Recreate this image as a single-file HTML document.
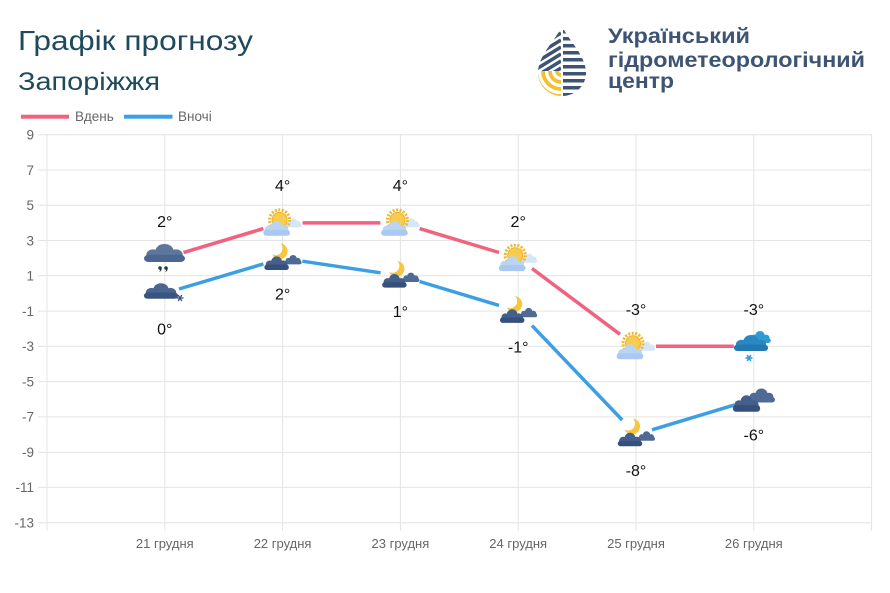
<!DOCTYPE html>
<html>
<head>
<meta charset="utf-8">
<style>
html,body{margin:0;padding:0;background:#fff;}
svg{display:block;}
text{font-family:"Liberation Sans",sans-serif;}
</style>
</head>
<body>
<svg width="890" height="593" viewBox="0 0 890 593" xmlns="http://www.w3.org/2000/svg">
<rect width="890" height="593" fill="#fff"/>

<!-- Title -->
<text x="18" y="50" font-size="28" fill="#1e4a5e" textLength="235" lengthAdjust="spacingAndGlyphs">Графік прогнозу</text>
<text x="18" y="90" font-size="25" fill="#1e4a5e" textLength="142" lengthAdjust="spacingAndGlyphs">Запоріжжя</text>

<!-- Logo -->
<defs>
<clipPath id="drop"><path d="M562,26 C556,40 538,55 538,73 A24 23 0 0 0 586,73 C586,55 568,40 562,26 Z"/></clipPath>
</defs>
<g clip-path="url(#drop)">
  <g fill="#3d5474">
    <rect x="563" y="30" width="30" height="3.5"/>
    <rect x="563" y="37" width="30" height="3.5"/>
    <rect x="563" y="44" width="30" height="3.5"/>
    <rect x="563" y="51" width="30" height="3.5"/>
    <rect x="563" y="58" width="30" height="3.5"/>
    <rect x="563" y="65" width="30" height="3.5"/>
    <rect x="563" y="72" width="30" height="3.5"/>
    <rect x="563" y="79" width="30" height="3.5"/>
    <rect x="563" y="86" width="30" height="3.5"/>
    <rect x="563" y="93" width="30" height="3.5"/>
  </g>
  <g stroke="#3d5474" stroke-width="3.5">
    <line x1="530" y1="45" x2="561" y2="26"/>
    <line x1="530" y1="52" x2="561" y2="33"/>
    <line x1="530" y1="59" x2="561" y2="40"/>
    <line x1="530" y1="66" x2="561" y2="47"/>
    <line x1="530" y1="73" x2="561" y2="54"/>
    <line x1="530" y1="80" x2="561" y2="61"/>
    <line x1="530" y1="87" x2="561" y2="68"/>
  </g>
  <rect x="534" y="71" width="27.5" height="30" fill="#fff"/>
  <g fill="none" stroke="#f2c12e" stroke-width="3.8">
    <path d="M557,71 A4 4 0 0 0 561,75"/>
    <path d="M550,71 A11 11 0 0 0 561,82"/>
    <path d="M543,71 A18 18 0 0 0 561,89"/>
    <path d="M536,71 A25 25 0 0 0 561,96"/>
  </g>
  <rect x="561" y="20" width="2" height="80" fill="#fff"/>
</g>
<g font-weight="bold" font-size="21" fill="#3d5474">
  <text x="608" y="43" textLength="142" lengthAdjust="spacingAndGlyphs">Український</text>
  <text x="608" y="67" textLength="257" lengthAdjust="spacingAndGlyphs">гідрометеорологічний</text>
  <text x="608" y="88" textLength="66" lengthAdjust="spacingAndGlyphs">центр</text>
</g>

<!-- Legend -->
<rect x="21" y="114.7" width="48" height="4" fill="#f0627f"/>
<text x="75" y="121" font-size="13.5" fill="#666">Вдень</text>
<rect x="124" y="114.7" width="48.5" height="4" fill="#3d9fe3"/>
<text x="178" y="121" font-size="13.5" fill="#666">Вночі</text>

<!-- Grid -->
<g stroke="#e4e4e4" stroke-width="1">
  <line x1="38" y1="134.7" x2="872" y2="134.7"/>
  <line x1="38" y1="170" x2="872" y2="170"/>
  <line x1="38" y1="205.3" x2="872" y2="205.3"/>
  <line x1="38" y1="240.5" x2="872" y2="240.5"/>
  <line x1="38" y1="275.8" x2="872" y2="275.8"/>
  <line x1="38" y1="311.1" x2="872" y2="311.1"/>
  <line x1="38" y1="346.3" x2="872" y2="346.3"/>
  <line x1="38" y1="381.6" x2="872" y2="381.6"/>
  <line x1="38" y1="416.9" x2="872" y2="416.9"/>
  <line x1="38" y1="452.2" x2="872" y2="452.2"/>
  <line x1="38" y1="487.4" x2="872" y2="487.4"/>
  <line x1="38" y1="522.7" x2="872" y2="522.7"/>
  <line x1="47" y1="134.7" x2="47" y2="531"/>
  <line x1="164.8" y1="134.7" x2="164.8" y2="531"/>
  <line x1="282.6" y1="134.7" x2="282.6" y2="531"/>
  <line x1="400.4" y1="134.7" x2="400.4" y2="531"/>
  <line x1="518.2" y1="134.7" x2="518.2" y2="531"/>
  <line x1="636" y1="134.7" x2="636" y2="531"/>
  <line x1="753.8" y1="134.7" x2="753.8" y2="531"/>
  <line x1="871.6" y1="134.7" x2="871.6" y2="531"/>
</g>

<!-- Y labels -->
<g font-size="13.5" fill="#666" text-anchor="end">
  <text x="34" y="139.5">9</text>
  <text x="34" y="174.8">7</text>
  <text x="34" y="210.1">5</text>
  <text x="34" y="245.3">3</text>
  <text x="34" y="280.6">1</text>
  <text x="34" y="315.9">-1</text>
  <text x="34" y="351.1">-3</text>
  <text x="34" y="386.4">-5</text>
  <text x="34" y="421.7">-7</text>
  <text x="34" y="457">-9</text>
  <text x="34" y="492.2">-11</text>
  <text x="34" y="527.5">-13</text>
</g>

<!-- X labels -->
<g font-size="13" fill="#666" text-anchor="middle">
  <text x="164.8" y="548">21 грудня</text>
  <text x="282.6" y="548">22 грудня</text>
  <text x="400.4" y="548">23 грудня</text>
  <text x="518.2" y="548">24 грудня</text>
  <text x="636" y="548">25 грудня</text>
  <text x="753.8" y="548">26 грудня</text>
</g>

<!-- Day series -->
<g stroke="#f0627f" stroke-width="3.5" fill="none">
  <line x1="183.5" y1="252.6" x2="263.4" y2="228.6"/>
  <line x1="302.6" y1="222.9" x2="380.4" y2="222.9"/>
  <line x1="419.6" y1="228.6" x2="499" y2="252.5"/>
  <line x1="532" y1="268.5" x2="620" y2="334.3"/>
  <line x1="656" y1="346.3" x2="733.8" y2="346.3"/>
</g>
<!-- Night series -->
<g stroke="#3d9fe3" stroke-width="3.5" fill="none">
  <line x1="179" y1="289" x2="263.4" y2="263.9"/>
  <line x1="302.4" y1="261.2" x2="380.6" y2="272.8"/>
  <line x1="419.6" y1="281.5" x2="499" y2="305.4"/>
  <line x1="532" y1="325.6" x2="622.2" y2="420"/>
  <line x1="652" y1="429.8" x2="734.6" y2="404.9"/>
</g>

<!-- Icons -->
<g transform="translate(164.5,253) scale(1.14,0.9)">
  <g fill="#5d769c">
    <circle cx="-10" cy="2" r="6"/><circle cx="0" cy="-2" r="8"/><circle cx="10" cy="2" r="6"/>
    <rect x="-18" y="2" width="36" height="8" rx="4" fill="#4b6690"/>
  </g>
</g>
<g fill="#2c3a4c">
  <circle cx="160" cy="268" r="1.8"/><path d="M161.6,268 q0.5,3 -2.5,4 q1.5,-2 0.5,-3z"/>
  <circle cx="166" cy="268" r="1.8"/><path d="M167.6,268 q0.5,3 -2.5,4 q1.5,-2 0.5,-3z"/>
</g>
<g transform="translate(161,291) scale(0.95,0.78)">
  <g fill="#4a6590">
    <circle cx="-10" cy="2" r="6"/><circle cx="0" cy="-2" r="8"/><circle cx="10" cy="2" r="6"/>
    <rect x="-18" y="2" width="36" height="8" rx="4" fill="#3a5480"/>
  </g>
</g>
<g stroke="#3a5480" stroke-width="1.3" transform="translate(180,298)">
  <line x1="-3.5" y1="0" x2="3.5" y2="0"/><line x1="-1.8" y1="-3" x2="1.8" y2="3"/><line x1="-1.8" y1="3" x2="1.8" y2="-3"/>
</g>

<!-- Sun-cloud icons -->
<g transform="translate(282.6,222.9)">
  <g transform="translate(11,0) scale(0.45)" fill="#d6e6fa"><circle cx="-10" cy="2" r="6"/><circle cx="0" cy="-2" r="8"/><circle cx="10" cy="2" r="6"/><rect x="-18" y="2" width="36" height="8" rx="4"/></g>
  <circle cx="-3" cy="-3" r="10" fill="none" stroke="#f0b72c" stroke-width="3" stroke-dasharray="2 1.5"/>
  <circle cx="-3" cy="-3" r="7.5" fill="#f8cd4f" stroke="#eeb22a" stroke-width="1"/>
  <g transform="translate(-6,5.5) scale(0.74)" fill="#b9d4f5"><circle cx="-10" cy="2" r="6"/><circle cx="0" cy="-2" r="8"/><circle cx="10" cy="2" r="6"/><rect x="-18" y="2" width="36" height="8" rx="4" fill="#a9c9f0"/></g>
</g>
<g transform="translate(400.4,222.9)">
  <g transform="translate(11,0) scale(0.45)" fill="#d6e6fa"><circle cx="-10" cy="2" r="6"/><circle cx="0" cy="-2" r="8"/><circle cx="10" cy="2" r="6"/><rect x="-18" y="2" width="36" height="8" rx="4"/></g>
  <circle cx="-3" cy="-3" r="10" fill="none" stroke="#f0b72c" stroke-width="3" stroke-dasharray="2 1.5"/>
  <circle cx="-3" cy="-3" r="7.5" fill="#f8cd4f" stroke="#eeb22a" stroke-width="1"/>
  <g transform="translate(-6,5.5) scale(0.74)" fill="#b9d4f5"><circle cx="-10" cy="2" r="6"/><circle cx="0" cy="-2" r="8"/><circle cx="10" cy="2" r="6"/><rect x="-18" y="2" width="36" height="8" rx="4" fill="#a9c9f0"/></g>
</g>
<g transform="translate(518.2,258.2)">
  <g transform="translate(11,0) scale(0.45)" fill="#d6e6fa"><circle cx="-10" cy="2" r="6"/><circle cx="0" cy="-2" r="8"/><circle cx="10" cy="2" r="6"/><rect x="-18" y="2" width="36" height="8" rx="4"/></g>
  <circle cx="-3" cy="-3" r="10" fill="none" stroke="#f0b72c" stroke-width="3" stroke-dasharray="2 1.5"/>
  <circle cx="-3" cy="-3" r="7.5" fill="#f8cd4f" stroke="#eeb22a" stroke-width="1"/>
  <g transform="translate(-6,5.5) scale(0.74)" fill="#b9d4f5"><circle cx="-10" cy="2" r="6"/><circle cx="0" cy="-2" r="8"/><circle cx="10" cy="2" r="6"/><rect x="-18" y="2" width="36" height="8" rx="4" fill="#a9c9f0"/></g>
</g>
<g transform="translate(636,346.3)">
  <g transform="translate(11,0) scale(0.45)" fill="#d6e6fa"><circle cx="-10" cy="2" r="6"/><circle cx="0" cy="-2" r="8"/><circle cx="10" cy="2" r="6"/><rect x="-18" y="2" width="36" height="8" rx="4"/></g>
  <circle cx="-3" cy="-3" r="10" fill="none" stroke="#f0b72c" stroke-width="3" stroke-dasharray="2 1.5"/>
  <circle cx="-3" cy="-3" r="7.5" fill="#f8cd4f" stroke="#eeb22a" stroke-width="1"/>
  <g transform="translate(-6,5.5) scale(0.74)" fill="#b9d4f5"><circle cx="-10" cy="2" r="6"/><circle cx="0" cy="-2" r="8"/><circle cx="10" cy="2" r="6"/><rect x="-18" y="2" width="36" height="8" rx="4" fill="#a9c9f0"/></g>
</g>

<!-- Moon-cloud icons -->
<g transform="translate(282.6,258.2)">
  <path transform="translate(-3,-7)" d="M0.96,-7.94 A8 8 0 1 1 -7.36,3.14 A7 7 0 0 0 0.96,-7.94 Z" fill="#f6c63e"/>
  <g transform="translate(10.5,1.5) scale(0.47)" fill="#4f6a95"><circle cx="-10" cy="2" r="6"/><circle cx="0" cy="-2" r="8"/><circle cx="10" cy="2" r="6"/><rect x="-18" y="2" width="36" height="8" rx="4"/></g>
  <g transform="translate(-6,5) scale(0.68)" fill="#445f8a"><circle cx="-10" cy="2" r="6"/><circle cx="0" cy="-2" r="8"/><circle cx="10" cy="2" r="6"/><rect x="-18" y="2" width="36" height="8" rx="4" fill="#37507b"/></g>
</g>
<g transform="translate(400.4,275.8)">
  <path transform="translate(-4,-7)" d="M0.96,-7.94 A8 8 0 1 1 -7.36,3.14 A7 7 0 0 0 0.96,-7.94 Z" fill="#f6c63e"/>
  <g transform="translate(10.5,1.5) scale(0.47)" fill="#4f6a95"><circle cx="-10" cy="2" r="6"/><circle cx="0" cy="-2" r="8"/><circle cx="10" cy="2" r="6"/><rect x="-18" y="2" width="36" height="8" rx="4"/></g>
  <g transform="translate(-6,5) scale(0.68)" fill="#445f8a"><circle cx="-10" cy="2" r="6"/><circle cx="0" cy="-2" r="8"/><circle cx="10" cy="2" r="6"/><rect x="-18" y="2" width="36" height="8" rx="4" fill="#37507b"/></g>
</g>
<g transform="translate(518.2,311.1)">
  <path transform="translate(-4,-7)" d="M0.96,-7.94 A8 8 0 1 1 -7.36,3.14 A7 7 0 0 0 0.96,-7.94 Z" fill="#f6c63e"/>
  <g transform="translate(10.5,1.5) scale(0.47)" fill="#4f6a95"><circle cx="-10" cy="2" r="6"/><circle cx="0" cy="-2" r="8"/><circle cx="10" cy="2" r="6"/><rect x="-18" y="2" width="36" height="8" rx="4"/></g>
  <g transform="translate(-6,5) scale(0.68)" fill="#445f8a"><circle cx="-10" cy="2" r="6"/><circle cx="0" cy="-2" r="8"/><circle cx="10" cy="2" r="6"/><rect x="-18" y="2" width="36" height="8" rx="4" fill="#37507b"/></g>
</g>
<g transform="translate(636,434.5)">
  <path transform="translate(-4,-8)" d="M0.96,-7.94 A8 8 0 1 1 -7.36,3.14 A7 7 0 0 0 0.96,-7.94 Z" fill="#f6c63e"/>
  <g transform="translate(10.5,1.5) scale(0.47)" fill="#4f6a95"><circle cx="-10" cy="2" r="6"/><circle cx="0" cy="-2" r="8"/><circle cx="10" cy="2" r="6"/><rect x="-18" y="2" width="36" height="8" rx="4"/></g>
  <g transform="translate(-6,5) scale(0.68)" fill="#445f8a"><circle cx="-10" cy="2" r="6"/><circle cx="0" cy="-2" r="8"/><circle cx="10" cy="2" r="6"/><rect x="-18" y="2" width="36" height="8" rx="4" fill="#37507b"/></g>
</g>

<!-- 26 day: blue cloud with snow -->
<g transform="translate(760,337) scale(0.6)" fill="#2f9bd4"><circle cx="-10" cy="2" r="6"/><circle cx="0" cy="-2" r="8"/><circle cx="10" cy="2" r="6"/><rect x="-18" y="2" width="36" height="8" rx="4"/></g>
<g transform="translate(751,343) scale(0.95,0.8)" fill="#2a88c0"><circle cx="-10" cy="2" r="6"/><circle cx="0" cy="-2" r="8"/><circle cx="10" cy="2" r="6"/><rect x="-18" y="2" width="36" height="8" rx="4" fill="#2279b2"/></g>
<g stroke="#2e9ee6" stroke-width="1.6" transform="translate(749,358)">
  <line x1="-3.5" y1="0" x2="3.5" y2="0"/><line x1="-1.8" y1="-3" x2="1.8" y2="3"/><line x1="-1.8" y1="3" x2="1.8" y2="-3"/>
</g>

<!-- 26 night: dark clouds -->
<g transform="translate(761.5,395.5) scale(0.75,0.7)" fill="#4f6a95"><circle cx="-10" cy="2" r="6"/><circle cx="0" cy="-2" r="8"/><circle cx="10" cy="2" r="6"/><rect x="-18" y="2" width="36" height="8" rx="4"/></g>
<g transform="translate(746.5,403.5) scale(0.76,0.82)" fill="#445f8a"><circle cx="-10" cy="2" r="6"/><circle cx="0" cy="-2" r="8"/><circle cx="10" cy="2" r="6"/><rect x="-18" y="2" width="36" height="8" rx="4" fill="#37507b"/></g>

<!-- Value labels -->
<g font-size="16" fill="#111" text-anchor="middle">
  <text x="164.8" y="227">2°</text>
  <text x="282.6" y="191">4°</text>
  <text x="400.4" y="191">4°</text>
  <text x="518.2" y="227">2°</text>
  <text x="636" y="315">-3°</text>
  <text x="753.8" y="315">-3°</text>

  <text x="164.8" y="334.5">0°</text>
  <text x="282.6" y="299.5">2°</text>
  <text x="400.4" y="317">1°</text>
  <text x="518.2" y="352.5">-1°</text>
  <text x="636" y="476">-8°</text>
  <text x="753.8" y="440.5">-6°</text>
</g>
</svg>
</body>
</html>
